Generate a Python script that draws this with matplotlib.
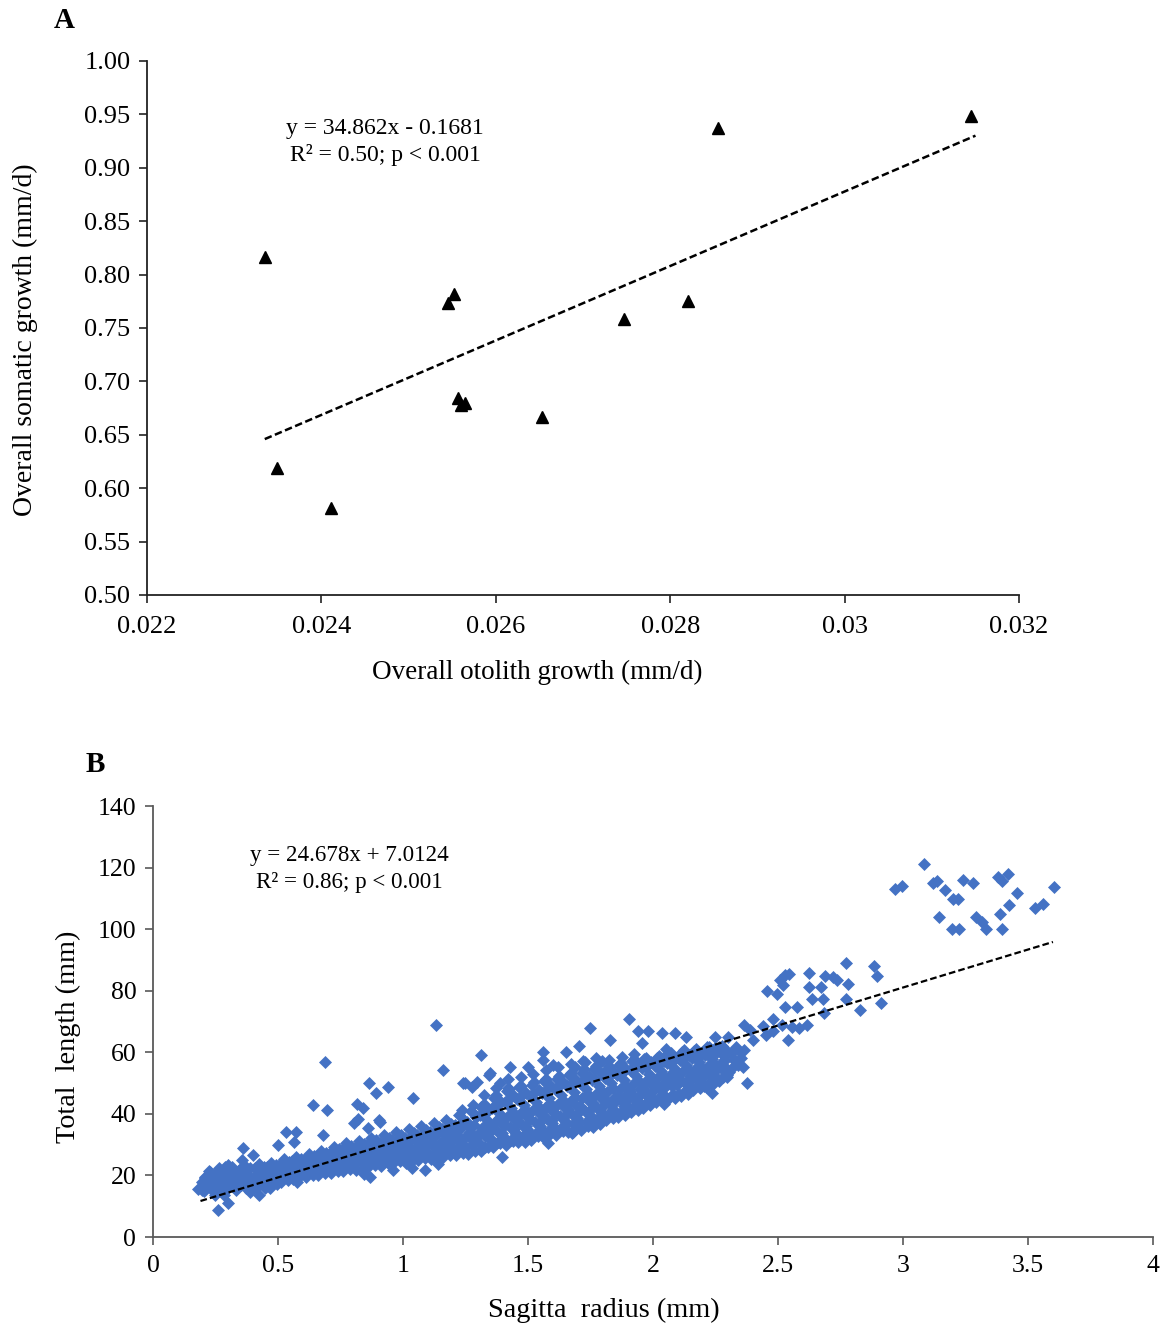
import matplotlib
matplotlib.use("Agg")
import matplotlib.pyplot as plt

plt.rcParams['font.family'] = ['Liberation Serif', 'DejaVu Serif']

# ---- panel A: otolith vs somatic growth ----
otolith_growth = [0.02335, 0.02349, 0.02411, 0.02545, 0.02552, 0.02557, 0.02560,
                  0.02565, 0.02653, 0.02747, 0.02820, 0.02855, 0.03145]
somatic_growth = [0.816, 0.619, 0.581, 0.773, 0.782, 0.684, 0.678,
                  0.680, 0.667, 0.758, 0.775, 0.937, 0.948]
fit_a = (34.862, -0.1681)
fit_a_x = [0.02335, 0.0315]
a_xticks = [0.022, 0.024, 0.026, 0.028, 0.03, 0.032]
a_xticklabels = ["0.022", "0.024", "0.026", "0.028", "0.03", "0.032"]
a_yticks = [0.50, 0.55, 0.60, 0.65, 0.70, 0.75, 0.80, 0.85, 0.90, 0.95, 1.00]

# ---- panel B: sagitta radius vs total length ----
# main band of fish
band_pts = [
    (0.182, 15.6), (0.195, 18.0), (0.203, 14.9), (0.208, 19.6), (0.215, 16.7), (0.221, 18.9),
    (0.226, 21.4), (0.232, 15.5), (0.238, 17.8), (0.244, 20.3), (0.247, 13.8),
    (0.252, 17.2), (0.256, 20.3), (0.261, 15.0), (0.266, 22.4), (0.271, 18.6), (0.277, 16.4),
    (0.282, 21.0), (0.286, 13.7), (0.291, 19.3), (0.297, 17.5), (0.299, 23.4),
    (0.302, 16.0), (0.307, 20.6), (0.313, 18.3), (0.318, 22.8), (0.322, 16.9), (0.329, 19.7),
    (0.334, 15.2), (0.339, 21.5), (0.344, 18.0), (0.349, 20.2),
    (0.352, 16.9), (0.357, 21.6), (0.361, 18.8), (0.366, 23.4), (0.372, 15.8), (0.377, 20.2),
    (0.383, 17.6), (0.388, 22.3), (0.394, 19.1), (0.398, 16.2),
    (0.403, 18.0), (0.408, 22.3), (0.412, 16.4), (0.418, 20.4), (0.423, 23.6), (0.429, 17.3),
    (0.434, 21.2), (0.439, 18.7), (0.444, 22.9), (0.448, 16.0),
    (0.452, 18.8), (0.457, 22.9), (0.462, 16.9), (0.468, 20.6), (0.473, 24.2), (0.478, 18.0),
    (0.483, 21.8), (0.489, 19.4), (0.494, 23.5), (0.498, 17.3),
    (0.503, 19.6), (0.508, 23.8), (0.513, 17.9), (0.519, 21.7), (0.524, 25.3), (0.528, 20.3),
    (0.534, 22.9), (0.539, 18.6), (0.545, 24.4), (0.549, 21.0),
    (0.553, 20.2), (0.558, 24.6), (0.562, 18.9), (0.568, 22.8), (0.573, 26.1), (0.579, 21.4),
    (0.584, 23.9), (0.589, 19.7), (0.594, 25.5), (0.598, 22.1),
    (0.603, 20.9), (0.608, 25.2), (0.613, 19.4), (0.619, 23.3), (0.624, 27.0), (0.629, 21.8),
    (0.634, 24.6), (0.639, 20.1), (0.645, 26.2), (0.649, 22.9),
    (0.652, 21.6), (0.657, 26.3), (0.662, 20.0), (0.668, 24.2), (0.673, 28.1), (0.678, 22.7),
    (0.684, 25.5), (0.689, 20.8), (0.694, 27.3), (0.698, 23.8),
    (0.703, 22.2), (0.707, 27.4), (0.712, 20.7), (0.718, 25.1), (0.723, 29.3), (0.728, 23.6),
    (0.733, 26.6), (0.739, 21.4), (0.744, 28.5), (0.748, 24.7),
    (0.752, 23.0), (0.757, 28.3), (0.762, 21.5), (0.768, 26.0), (0.773, 30.4), (0.778, 24.4),
    (0.783, 27.6), (0.789, 22.1), (0.794, 29.6), (0.798, 25.6),
    (0.803, 23.5), (0.807, 29.0), (0.812, 21.7), (0.818, 26.6), (0.823, 31.2), (0.828, 24.9),
    (0.833, 28.2), (0.839, 22.5), (0.844, 30.3), (0.848, 26.2), (0.846, 20.4),
    (0.852, 24.3), (0.857, 30.0), (0.862, 22.6), (0.868, 27.5), (0.873, 32.3), (0.878, 25.8),
    (0.883, 29.2), (0.889, 23.4), (0.894, 31.4), (0.898, 27.1),
    (0.903, 24.9), (0.907, 30.6), (0.912, 23.1), (0.918, 28.0), (0.923, 33.0), (0.928, 26.3),
    (0.933, 29.8), (0.939, 23.9), (0.944, 32.1), (0.948, 27.6),
    (0.952, 25.7), (0.957, 31.6), (0.962, 23.9), (0.968, 29.0), (0.973, 34.1), (0.978, 27.2),
    (0.983, 30.8), (0.989, 24.7), (0.994, 33.0), (0.998, 28.5),
    (1.003, 26.0), (1.007, 32.3), (1.012, 24.1), (1.018, 29.5), (1.023, 35.0), (1.028, 27.6),
    (1.033, 31.4), (1.039, 25.0), (1.044, 33.8), (1.048, 29.0), (1.036, 22.4),
    (1.052, 26.9), (1.057, 33.3), (1.062, 25.0), (1.068, 30.5), (1.073, 36.0), (1.078, 28.5),
    (1.083, 32.4), (1.089, 25.8), (1.094, 34.8), (1.098, 30.0),
    (1.103, 27.1), (1.107, 34.0), (1.112, 25.2), (1.118, 31.0), (1.123, 37.0), (1.128, 28.9),
    (1.133, 33.1), (1.139, 26.0), (1.144, 35.6), (1.148, 30.4), (1.141, 23.6),
    (1.152, 28.0), (1.157, 35.1), (1.162, 26.0), (1.168, 32.0), (1.173, 38.1), (1.178, 29.8),
    (1.183, 34.1), (1.189, 26.8), (1.194, 36.6), (1.198, 31.4),
    (1.203, 28.7), (1.207, 36.3), (1.212, 26.5), (1.218, 33.0), (1.223, 39.5), (1.228, 30.6),
    (1.233, 35.3), (1.239, 27.4), (1.244, 37.9), (1.248, 32.4), (1.236, 41.2),
    (1.252, 29.3), (1.257, 37.5), (1.262, 27.1), (1.268, 34.0), (1.273, 40.9), (1.278, 31.4),
    (1.283, 36.5), (1.289, 28.0), (1.294, 39.2), (1.298, 33.2), (1.281, 43.0),
    (1.303, 30.4), (1.307, 39.6), (1.312, 28.0), (1.318, 35.5), (1.323, 43.2), (1.328, 32.7),
    (1.333, 38.2), (1.339, 29.1), (1.344, 41.3), (1.348, 34.8), (1.326, 46.1), (1.341, 36.9),
    (1.352, 31.9), (1.357, 42.0), (1.362, 29.3), (1.368, 37.5), (1.373, 46.0), (1.378, 34.4),
    (1.383, 40.3), (1.389, 30.4), (1.394, 43.8), (1.398, 36.6), (1.371, 48.5), (1.386, 38.7),
    (1.403, 32.6), (1.407, 43.8), (1.412, 30.0), (1.418, 39.0), (1.423, 48.1), (1.428, 35.6),
    (1.433, 41.9), (1.439, 31.2), (1.444, 45.7), (1.448, 37.9), (1.421, 51.2), (1.436, 40.4),
    (1.447, 34.1),
    (1.452, 33.4), (1.457, 44.9), (1.462, 30.8), (1.468, 40.0), (1.473, 49.2), (1.478, 36.5),
    (1.483, 43.0), (1.489, 32.0), (1.494, 46.8), (1.498, 38.9), (1.471, 52.0), (1.486, 41.3),
    (1.497, 35.2),
    (1.503, 34.2), (1.507, 45.9), (1.512, 31.6), (1.518, 41.0), (1.523, 50.2), (1.528, 37.4),
    (1.533, 44.0), (1.539, 32.8), (1.544, 47.9), (1.548, 39.9), (1.521, 53.1), (1.536, 42.3),
    (1.547, 36.0),
    (1.552, 35.0), (1.557, 46.9), (1.562, 32.4), (1.568, 42.0), (1.573, 51.3), (1.578, 38.3),
    (1.583, 45.1), (1.589, 33.6), (1.594, 49.0), (1.598, 40.8), (1.571, 54.1), (1.586, 43.2),
    (1.597, 36.9),
    (1.603, 35.8), (1.607, 48.0), (1.612, 33.2), (1.618, 43.0), (1.623, 52.4), (1.628, 39.2),
    (1.633, 46.1), (1.639, 34.4), (1.644, 50.1), (1.648, 41.8), (1.621, 55.2), (1.636, 44.2),
    (1.647, 37.8),
    (1.652, 36.7), (1.657, 49.0), (1.662, 34.0), (1.668, 44.0), (1.673, 53.4), (1.678, 40.1),
    (1.683, 47.2), (1.689, 35.2), (1.694, 51.1), (1.698, 42.7), (1.671, 56.2), (1.686, 45.1),
    (1.697, 38.6),
    (1.703, 37.5), (1.707, 50.1), (1.712, 34.9), (1.718, 45.0), (1.723, 54.5), (1.728, 41.0),
    (1.733, 48.2), (1.739, 36.0), (1.744, 52.2), (1.748, 43.7), (1.721, 57.3), (1.736, 46.1),
    (1.747, 39.5),
    (1.752, 38.3), (1.757, 51.1), (1.762, 35.7), (1.768, 46.0), (1.773, 55.5), (1.778, 41.9),
    (1.783, 49.2), (1.789, 36.8), (1.794, 53.2), (1.798, 44.7), (1.771, 58.2), (1.786, 47.0),
    (1.797, 40.3),
    (1.803, 39.6), (1.807, 51.6), (1.812, 38.0), (1.818, 47.0), (1.823, 55.4), (1.828, 43.1),
    (1.833, 49.9), (1.839, 38.7), (1.844, 53.5), (1.848, 45.6), (1.836, 41.4), (1.826, 57.6),
    (1.852, 40.6), (1.857, 52.6), (1.862, 39.0), (1.868, 48.0), (1.873, 56.4), (1.878, 44.1),
    (1.883, 50.9), (1.889, 39.7), (1.894, 54.5), (1.898, 46.6), (1.886, 42.4), (1.876, 58.4),
    (1.903, 42.0), (1.907, 54.1), (1.912, 40.5), (1.918, 49.5), (1.923, 57.9), (1.928, 45.6),
    (1.933, 52.4), (1.939, 41.2), (1.944, 56.0), (1.948, 48.1), (1.936, 43.9), (1.926, 59.3),
    (1.952, 43.3), (1.957, 54.8), (1.962, 42.0), (1.968, 50.5), (1.973, 58.2), (1.978, 46.8),
    (1.983, 53.1), (1.989, 42.8), (1.994, 56.7), (1.998, 49.3), (1.986, 45.0),
    (2.003, 44.5), (2.007, 55.6), (2.012, 43.7), (2.018, 51.5), (2.023, 58.8), (2.028, 48.0),
    (2.033, 54.0), (2.039, 44.3), (2.044, 57.3), (2.048, 50.3), (2.036, 46.2),
    (2.052, 45.5), (2.057, 56.6), (2.062, 44.7), (2.068, 52.5), (2.073, 59.8), (2.078, 49.0),
    (2.083, 55.0), (2.089, 45.3), (2.094, 58.3), (2.098, 51.3),
    (2.103, 46.5), (2.107, 57.6), (2.112, 45.7), (2.118, 53.5), (2.123, 60.6), (2.128, 50.0),
    (2.133, 56.0), (2.139, 46.3), (2.144, 59.1), (2.148, 52.3),
    (2.152, 48.1), (2.157, 58.2), (2.162, 47.6), (2.168, 54.5), (2.173, 61.0), (2.178, 51.3),
    (2.183, 56.8), (2.189, 48.5), (2.194, 59.6), (2.198, 53.4),
    (2.203, 49.1), (2.208, 59.2), (2.214, 48.7), (2.219, 55.5), (2.226, 61.7), (2.231, 52.3),
    (2.236, 57.9), (2.242, 49.6), (2.247, 60.3),
    (2.253, 51.2), (2.258, 60.1), (2.264, 50.6), (2.271, 56.5), (2.277, 62.0), (2.283, 53.8),
    (2.289, 58.7), (2.296, 51.9),
    (2.304, 53.5), (2.311, 59.8), (2.318, 54.9), (2.326, 57.4), (2.333, 61.6), (2.341, 55.8),
    (2.352, 58.3), (2.366, 60.6),
]

# extra fish filling the gaps of the dense part of the band
band_fill_pts = [
    (0.912, 29.5), (0.927, 25.0), (0.941, 31.5), (0.962, 30.5), (0.977, 26.0), (0.991, 32.5),
    (1.012, 31.2), (1.027, 26.2), (1.041, 33.3), (1.062, 32.2), (1.077, 27.2), (1.091, 34.3),
    (1.112, 32.8), (1.127, 27.4), (1.141, 35.2), (1.162, 33.8), (1.177, 28.4), (1.191, 36.2),
    (1.212, 35.0), (1.227, 29.1), (1.241, 37.6), (1.262, 36.1), (1.277, 29.8), (1.291, 38.9),
    (1.310, 33.6), (1.321, 39.8), (1.329, 29.4), (1.341, 36.7), (1.314, 42.3), (1.346, 32.3),
    (1.360, 35.2), (1.371, 42.5), (1.380, 30.8), (1.391, 38.9), (1.365, 45.2), (1.396, 33.9),
    (1.410, 36.4), (1.420, 44.6), (1.431, 31.6), (1.440, 40.6), (1.415, 47.4), (1.446, 35.0),
    (1.461, 37.6), (1.470, 45.4), (1.480, 32.7), (1.491, 41.4), (1.466, 48.6), (1.494, 36.1),
    (1.510, 38.4), (1.521, 46.6), (1.530, 33.4), (1.540, 42.5), (1.515, 49.4), (1.546, 37.0),
    (1.561, 39.6), (1.570, 47.4), (1.581, 34.6), (1.590, 43.6), (1.565, 50.6), (1.596, 38.1),
    (1.610, 40.4), (1.620, 48.6), (1.631, 35.4), (1.641, 44.4), (1.616, 51.4), (1.645, 39.0),
    (1.660, 41.6), (1.671, 49.4), (1.680, 36.6), (1.690, 45.6), (1.664, 52.6), (1.696, 40.1),
    (1.710, 42.4), (1.719, 50.6), (1.731, 37.4), (1.740, 46.4), (1.715, 53.4), (1.745, 41.0),
    (1.761, 43.6), (1.770, 51.4), (1.779, 38.6), (1.791, 47.6), (1.766, 54.6), (1.796, 42.1),
    (1.810, 44.8), (1.820, 52.0), (1.831, 40.3), (1.840, 48.4), (1.815, 54.7), (1.846, 43.4),
    (1.861, 45.7), (1.871, 53.1), (1.880, 41.2), (1.890, 49.3), (1.866, 55.8), (1.895, 44.5),
    (1.910, 47.3), (1.920, 54.4), (1.930, 42.8), (1.941, 50.9), (1.915, 57.2), (1.946, 45.9),
    (1.960, 48.4), (1.971, 55.2), (1.980, 44.1), (1.990, 51.8), (1.964, 57.7), (1.996, 47.1),
    (2.010, 49.6), (2.021, 55.9), (2.030, 45.5), (2.040, 52.7), (2.015, 58.3), (2.046, 48.3),
    (2.060, 50.5), (2.071, 56.9), (2.080, 46.5), (2.091, 53.7), (2.066, 59.3), (2.095, 49.3),
    (2.110, 51.4), (2.121, 57.9), (2.130, 47.5), (2.140, 54.7), (2.116, 60.0), (2.146, 50.3),
    (2.160, 52.8), (2.171, 58.4), (2.180, 49.3), (2.190, 55.6), (2.165, 60.4), (2.195, 51.7),
    (2.210, 53.7), (2.221, 59.4), (2.230, 50.2), (2.240, 56.6), (2.215, 61.4), (2.246, 52.7),
    (2.260, 55.0), (2.271, 59.8), (2.280, 52.0), (2.290, 57.4), (2.266, 61.6), (2.294, 54.1),
]

# scattered fish off the main band
outlier_pts = [
    (0.688, 56.9), (0.865, 49.9), (0.941, 48.8), (0.891, 46.9), (0.639, 42.9), (0.697, 41.2),
    (0.815, 43.1), (0.841, 42.0), (0.821, 38.2), (0.805, 36.9), (0.861, 35.3), (0.905, 38.0),
    (0.532, 34.2), (0.572, 34.2), (0.501, 29.9), (0.564, 31.0), (0.681, 33.1), (0.361, 28.8),
    (0.357, 25.0), (0.401, 26.6), (0.288, 22.8), (0.228, 21.2), (0.208, 19.1), (0.195, 15.3),
    (0.261, 8.8), (0.301, 11.1), (0.425, 13.6), (0.388, 14.7), (0.468, 15.8), (0.575, 18.0),
    (0.868, 19.6), (0.961, 21.8), (0.908, 37.4),
    (1.132, 68.9), (1.312, 59.1), (1.161, 54.2), (1.428, 55.3), (1.041, 45.0), (1.748, 67.8),
    (1.828, 64.0), (1.704, 62.0), (1.651, 60.2), (1.561, 60.2), (1.795, 57.3), (1.561, 57.5),
    (1.348, 53.2), (1.395, 26.1), (1.088, 21.8), (1.248, 49.9), (1.295, 50.4), (1.601, 55.9),
    (1.501, 55.3), (1.688, 55.3), (1.728, 56.9), (1.681, 34.2), (1.579, 30.4), (1.488, 31.0),
    (1.755, 37.1), (1.345, 52.6), (1.388, 49.9), (1.421, 48.3), (1.241, 49.9), (1.275, 48.8),
    (1.905, 70.7), (1.94, 67.0), (1.98, 67.0), (2.035, 66.2), (2.088, 66.2), (2.132, 64.9),
    (1.955, 63.1), (2.248, 64.9), (2.299, 64.9), (2.054, 61.0), (2.046, 58.6), (2.215, 61.8),
    (2.200, 59.7), (2.046, 43.2), (2.235, 46.7), (1.676, 33.9),
    (2.248, 61.3), (2.288, 61.0), (2.348, 60.2), (2.328, 57.5), (2.361, 55.3), (2.295, 52.6),
    (2.375, 49.9), (2.241, 56.4), (2.235, 54.2), (2.287, 55.3),
    (2.364, 68.9), (2.388, 67.2), (2.441, 68.5), (2.481, 70.7), (2.451, 65.6), (2.479, 67.0),
    (2.515, 68.9), (2.555, 68.3), (2.584, 67.8), (2.615, 68.9), (2.541, 64.0), (2.401, 64.0),
    (2.455, 80.0), (2.495, 79.1), (2.508, 83.5), (2.528, 85.1), (2.545, 85.6), (2.520, 81.8),
    (2.528, 74.8), (2.575, 74.8), (2.625, 85.8), (2.624, 81.1), (2.635, 77.2), (2.671, 81.1),
    (2.680, 77.2), (2.686, 72.9), (2.690, 84.8), (2.720, 84.5), (2.735, 83.5), (2.773, 88.9),
    (2.780, 82.1), (2.773, 77.2), (2.827, 73.7), (2.885, 88.0), (2.896, 84.8), (2.911, 76.1),
]

# largest fish, top right group
large_fish_pts = [
    (3.084, 121.1), (2.968, 113.0), (2.996, 114.0), (3.120, 115.0), (3.136, 115.6),
    (3.168, 112.7), (3.200, 109.8), (3.220, 109.8), (3.240, 116.0), (3.280, 115.0),
    (3.380, 116.9), (3.396, 115.6), (3.420, 117.9), (3.456, 111.7), (3.424, 107.8),
    (3.388, 104.9), (3.144, 103.9), (3.292, 103.9), (3.316, 102.3), (3.332, 100.0),
    (3.196, 100.0), (3.224, 100.0), (3.396, 100.0), (3.528, 106.9), (3.560, 108.2),
    (3.604, 113.7),
]

fit_b = (24.678, 7.0124)
fit_b_x = [0.19, 3.6]
b_xticks = [0, 0.5, 1, 1.5, 2, 2.5, 3, 3.5, 4]
b_xticklabels = ["0", "0.5", "1", "1.5", "2", "2.5", "3", "3.5", "4"]
b_yticks = [0, 20, 40, 60, 80, 100, 120, 140]

all_pts = band_pts + band_fill_pts + outlier_pts + large_fish_pts
sagitta_radius = [p[0] for p in all_pts]
total_length = [p[1] for p in all_pts]

fig = plt.figure(figsize=(11.66, 13.28), dpi=100)

# ---------------- panel A ----------------
axa = fig.add_axes([0.1261, 0.5520, 0.7479, 0.4021])
axa.plot(otolith_growth, somatic_growth, linestyle='none', marker='^',
         color='black', markersize=9)
axa.plot(fit_a_x, [fit_a[0] * x + fit_a[1] for x in fit_a_x],
         color='black', linestyle=(0, (3, 1.4)), linewidth=1.8)
axa.set_xlim(0.022, 0.032)
axa.set_ylim(0.50, 1.00)
axa.set_xticks(a_xticks)
axa.set_xticklabels(a_xticklabels)
axa.set_yticks(a_yticks)
axa.set_yticklabels([f"{v:.2f}" for v in a_yticks])
for s in ['top', 'right']:
    axa.spines[s].set_visible(False)
for s in ['left', 'bottom']:
    axa.spines[s].set_color('#222222')
    axa.spines[s].set_linewidth(1.3)
axa.tick_params(direction='out', length=6, width=1.2, labelsize=19, color='#222222')
axa.tick_params(axis='x', pad=9)
axa.tick_params(axis='y', pad=6)
axa.text(0.02473, 0.937, "y = 34.862x - 0.1681", ha='center', va='center', fontsize=17)
axa.text(0.02473, 0.912, "R² = 0.50; p < 0.001", ha='center', va='center', fontsize=17)

fig.text(537 / 1166, 1 - 672 / 1328, "Overall otolith growth (mm/d)",
         ha='center', va='center', fontsize=19.5)
fig.text(25 / 1166, 1 - 340 / 1328, "Overall somatic growth (mm/d)",
         ha='center', va='center', rotation=90, fontsize=20)
fig.text(64 / 1166, 1 - 20 / 1328, "A", ha='center', va='center',
         fontsize=21, fontweight='bold')

# ---------------- panel B ----------------
axb = fig.add_axes([0.1312, 0.06852, 0.8576, 0.3245])
axb.scatter(sagitta_radius, total_length, marker='D', s=44, color='#4472C4',
            linewidths=0, zorder=2)
axb.plot(fit_b_x, [fit_b[0] * x + fit_b[1] for x in fit_b_x],
         color='black', linestyle=(0, (3, 1.4)), linewidth=1.6, zorder=3)
axb.set_xlim(0, 4)
axb.set_ylim(0, 140)
axb.set_xticks(b_xticks)
axb.set_xticklabels(b_xticklabels)
axb.set_yticks(b_yticks)
for s in ['top', 'right']:
    axb.spines[s].set_visible(False)
for s in ['left', 'bottom']:
    axb.spines[s].set_color('#595959')
    axb.spines[s].set_linewidth(1.3)
axb.tick_params(direction='out', length=6, width=1.2, labelsize=18.5, color='#595959')
axb.tick_params(axis='x', pad=7)
axb.tick_params(axis='y', pad=6)
axb.text(0.784, 124.1, "y = 24.678x + 7.0124", ha='center', va='center', fontsize=16.6)
axb.text(0.784, 115.3, "R² = 0.86; p < 0.001", ha='center', va='center', fontsize=16.6)

fig.text(604 / 1166, 1 - 1310 / 1328, "Sagitta  radius (mm)",
         ha='center', va='center', fontsize=20.3)
fig.text(68 / 1166, 1 - 1037 / 1328, "Total  length (mm)",
         ha='center', va='center', rotation=90, fontsize=20.3)
fig.text(95 / 1166, 1 - 765 / 1328, "B", ha='center', va='center',
         fontsize=21, fontweight='bold')

fig.savefig("out.png", dpi=100)
